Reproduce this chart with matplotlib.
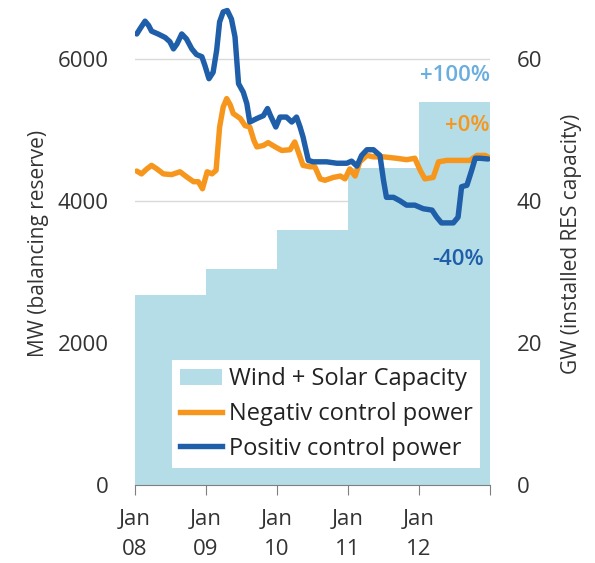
import numpy as np
import matplotlib
matplotlib.use("Agg")
from matplotlib import pyplot as plt
from matplotlib.patches import Patch
from matplotlib.lines import Line2D

# installed wind + solar capacity (GW), one step per year
cap_years = [2008, 2009, 2010, 2011, 2012]
cap_gw = [26.8, 30.4, 35.9, 44.6, 53.9]

# negative control power (MW), months since Jan 2008
neg_months = [0.3, 1.1, 2.0, 2.8, 3.7, 4.8, 6.2, 7.6, 8.7, 9.9, 10.7, 11.4, 12.2, 13.0,
              13.7, 14.3, 14.9, 15.5, 16.1, 16.6, 17.8, 18.6, 19.4, 20.1, 20.6, 21.7,
              22.5, 23.7, 24.8, 26.2, 27.0, 27.6, 28.4, 29.6, 30.4, 31.3, 32.1, 33.5,
              34.7, 35.5, 36.3, 37.2, 38.0, 39.2, 40.3, 42.0, 44.2, 45.9, 47.3, 48.2,
              49.0, 50.4, 51.3, 52.7, 54.9, 56.6, 57.8, 59.2, 60.0]
neg_mw = [4420, 4380, 4450, 4500, 4450, 4380, 4370, 4410, 4340, 4270, 4270, 4170, 4410, 4380,
          4430, 5040, 5320, 5440, 5350, 5230, 5160, 5060, 5040, 4850, 4760, 4780,
          4820, 4760, 4710, 4720, 4830, 4690, 4500, 4480, 4480, 4310, 4290, 4330,
          4350, 4310, 4450, 4350, 4550, 4640, 4620, 4620, 4600, 4580, 4600, 4430,
          4310, 4330, 4550, 4570, 4570, 4570, 4640, 4640, 4600]

# positive control power (MW)
pos_months = [0.3, 0.9, 1.7, 2.3, 2.8, 3.9, 5.1, 5.9, 6.5, 7.1, 7.9, 8.7, 9.6, 10.4,
              11.3, 11.8, 12.5, 13.2, 13.8, 14.3, 14.9, 15.6, 16.3, 16.9, 17.5, 18.3,
              18.9, 19.4, 20.6, 21.7, 22.4, 22.9, 23.8, 24.5, 25.6, 26.5, 27.3, 27.9,
              28.4, 29.3, 30.1, 32.4, 34.1, 35.8, 36.6, 37.5, 38.3, 39.2, 40.3, 41.4,
              42.0, 42.5, 43.7, 44.8, 45.9, 47.3, 48.7, 50.2, 51.0, 51.8, 53.8, 54.6,
              55.2, 56.1, 56.9, 57.5, 58.3, 59.7]
pos_mw = [6350, 6430, 6530, 6470, 6390, 6350, 6300, 6240, 6140, 6210, 6350, 6280, 6140, 6060,
          6030, 5910, 5720, 5810, 6120, 6520, 6660, 6680, 6560, 6310, 5650, 5530,
          5370, 5110, 5160, 5200, 5300, 5200, 5040, 5180, 5180, 5110, 5180, 5040,
          4900, 4570, 4550, 4550, 4530, 4530, 4560, 4490, 4640, 4720, 4720, 4640,
          4290, 4050, 4050, 4000, 3940, 3940, 3890, 3870, 3770, 3690, 3690, 3770,
          4200, 4220, 4430, 4600, 4600, 4590]

year_ticks = [2008, 2009, 2010, 2011, 2012, 2013]
year_labels = ["Jan\n08", "Jan\n09", "Jan\n10", "Jan\n11", "Jan\n12", ""]

fill_col = "#b4dde8"
neg_col = "#f7961c"
pos_col = "#1f5ea8"
txt_col = "#333333"

plt.rcParams["font.family"] = ["Open Sans", "DejaVu Sans"]

fig = plt.figure(figsize=(5.95, 5.63), dpi=100)
ax2 = fig.add_axes([135 / 595, 78 / 563, 355 / 595, 483 / 563])
ax = ax2.twinx()
ax.yaxis.tick_left()
ax2.yaxis.tick_right()
ax.yaxis.set_label_position("left")
ax2.yaxis.set_label_position("right")

# capacity on the GW axis, drawn underneath
ax2.bar(cap_years, cap_gw, width=1.0, align="edge", color=fill_col, zorder=2)
ax2.set_ylim(0, 68)
ax2.set_yticks([0, 20, 40, 60])
ax2.grid(axis="y", color="#d9d9d9", linewidth=1, zorder=0)
ax2.set_axisbelow(True)
ax2.set_ylabel("GW (installed RES capacity)", fontsize=15, color=txt_col, labelpad=14)

# control power lines on the MW axis
neg_x = [2008 + m / 12 for m in neg_months]
pos_x = [2008 + m / 12 for m in pos_months]
ax.set_zorder(ax2.get_zorder() + 1)
ax.patch.set_visible(False)
ax.plot(neg_x, neg_mw, color=neg_col, linewidth=3.9, solid_capstyle="round", solid_joinstyle="round")
ax.plot(pos_x, pos_mw, color=pos_col, linewidth=3.9, solid_capstyle="round", solid_joinstyle="round")
ax.set_ylim(0, 6800)
ax.set_yticks([0, 2000, 4000, 6000])
ax.set_ylabel("MW (balancing reserve)", fontsize=15, color=txt_col, labelpad=6)

ax.set_xlim(2008, 2013)
ax2.set_xticks(year_ticks)
ax2.set_xticklabels(year_labels, linespacing=1.6)

for a in (ax, ax2):
    for s in ("top", "left", "right"):
        a.spines[s].set_visible(False)
    a.tick_params(axis="y", length=0, labelsize=16, colors=txt_col, pad=19)
ax.spines["bottom"].set_visible(False)
ax2.spines["bottom"].set_color("#7f7f7f")
ax2.tick_params(axis="x", length=7, color="#7f7f7f", labelsize=16, labelcolor=txt_col, pad=10)

ax.text(2013.0, 5770, "+100%", color="#6aaee0", fontsize=16, fontweight="semibold", ha="right", va="center")
ax.text(2013.0, 5060, "+0%", color=neg_col, fontsize=16, fontweight="semibold", ha="right", va="center")
ax.text(2012.92, 3180, "-40%", color=pos_col, fontsize=16, fontweight="semibold", ha="right", va="center")

handles = [Patch(facecolor=fill_col, edgecolor="none"),
           Line2D([], [], color=neg_col, linewidth=3.9),
           Line2D([], [], color=pos_col, linewidth=3.9)]
labels = ["Wind + Solar Capacity", "Negativ control power", "Positiv control power"]
leg = ax.legend(handles, labels, loc="lower right", bbox_to_anchor=(0.972, 0.036), fontsize=17,
                frameon=True, fancybox=False, framealpha=1, facecolor="white", edgecolor="none",
                borderpad=0.3, handlelength=1.8, handletextpad=0.3, labelspacing=0.45,
                borderaxespad=0)
for t in leg.get_texts():
    t.set_color("#222222")

fig.savefig("out.png", dpi=100)
